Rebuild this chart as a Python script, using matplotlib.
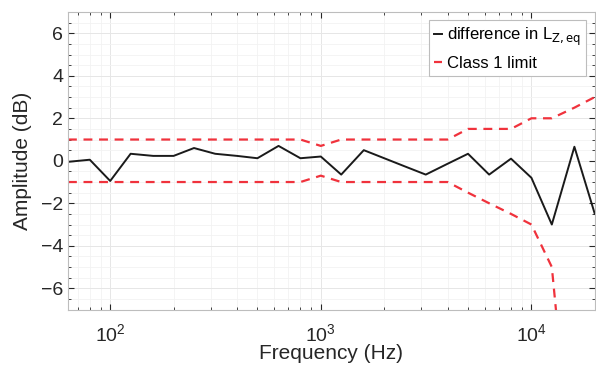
import numpy as np
import matplotlib
matplotlib.use("Agg")
import matplotlib.pyplot as plt
from matplotlib.ticker import MultipleLocator, LogLocator, NullFormatter

plt.rcParams['font.family'] = ['Liberation Sans', 'DejaVu Sans']

# third-octave band centre frequencies (Hz)
freq = [63, 80, 100, 125, 160, 200, 250, 315, 400, 500, 630, 800, 1000,
        1250, 1600, 2000, 2500, 3150, 4000, 5000, 6300, 8000, 10000,
        12500, 16000, 20000]

# difference in LZ,eq (dB)
diff = [-0.05, 0.05, -0.95, 0.33, 0.23, 0.23, 0.6, 0.33, 0.23, 0.12, 0.7,
        0.12, 0.2, -0.65, 0.5, 0.12, -0.26, -0.65, -0.14, 0.33, -0.65,
        0.1, -0.8, -3.0, 0.66, -2.5]

# class 1 tolerance limits (dB)
upper = [1.0, 1.0, 1.0, 1.0, 1.0, 1.0, 1.0, 1.0, 1.0, 1.0, 1.0, 1.0, 0.7,
         1.0, 1.0, 1.0, 1.0, 1.0, 1.0, 1.5, 1.5, 1.5, 2.0, 2.0, 2.5, 3.0]
lower = [-1.0, -1.0, -1.0, -1.0, -1.0, -1.0, -1.0, -1.0, -1.0, -1.0, -1.0,
         -1.0, -0.7, -1.0, -1.0, -1.0, -1.0, -1.0, -1.0, -1.5, -2.0, -2.5,
         -3.0, -5.0, -16.0, -np.inf]

fig = plt.figure(figsize=(5.96, 3.65), dpi=100)
ax = fig.add_axes([0.114, 0.152, 0.884, 0.815])

red = '#f0323c'
ax.semilogx(freq, diff, color='#1a1a1a', lw=1.4,
            label=r'difference in L$_{\mathrm{Z,eq}}$')
ax.semilogx(freq, upper, color=red, ls=(0, (4, 3)), lw=1.6, label='Class 1 limit')
ax.semilogx(freq, lower, color=red, ls=(0, (4, 3)), lw=1.6)

ax.set_xlim(63, 20000)
ax.set_ylim(-7, 7)
ax.yaxis.set_major_locator(MultipleLocator(2))
ax.yaxis.set_minor_locator(MultipleLocator(0.5))
ax.xaxis.set_minor_locator(LogLocator(base=10, subs=np.arange(2, 10)))
ax.xaxis.set_minor_formatter(NullFormatter())

ax.grid(True, which='major', color='#e6e6e6', lw=0.7)
ax.grid(True, which='minor', color='#f2f2f2', lw=0.6)
ax.set_axisbelow(True)

ax.tick_params(which='both', direction='in', top=True, right=True,
               colors='#262626', labelsize=14)
ax.tick_params(which='major', length=4)
ax.tick_params(which='minor', length=2)
ax.tick_params(axis='x', pad=10)
for s in ax.spines.values():
    s.set_color('#bdbdbd')
    s.set_linewidth(0.8)

ax.set_xlabel('Frequency (Hz)', fontsize=15, color='#262626', labelpad=-1)
ax.set_ylabel('Amplitude (dB)', fontsize=15, color='#262626', labelpad=6)

leg = ax.legend(loc='upper right', fontsize=12, handlelength=0.5,
                handletextpad=0.3, borderaxespad=0.5, fancybox=False,
                framealpha=1, borderpad=0.3, labelspacing=0.5)
leg.get_frame().set_edgecolor('#bdbdbd')
leg.get_frame().set_linewidth(0.8)

fig.savefig('out.png', dpi=100)
